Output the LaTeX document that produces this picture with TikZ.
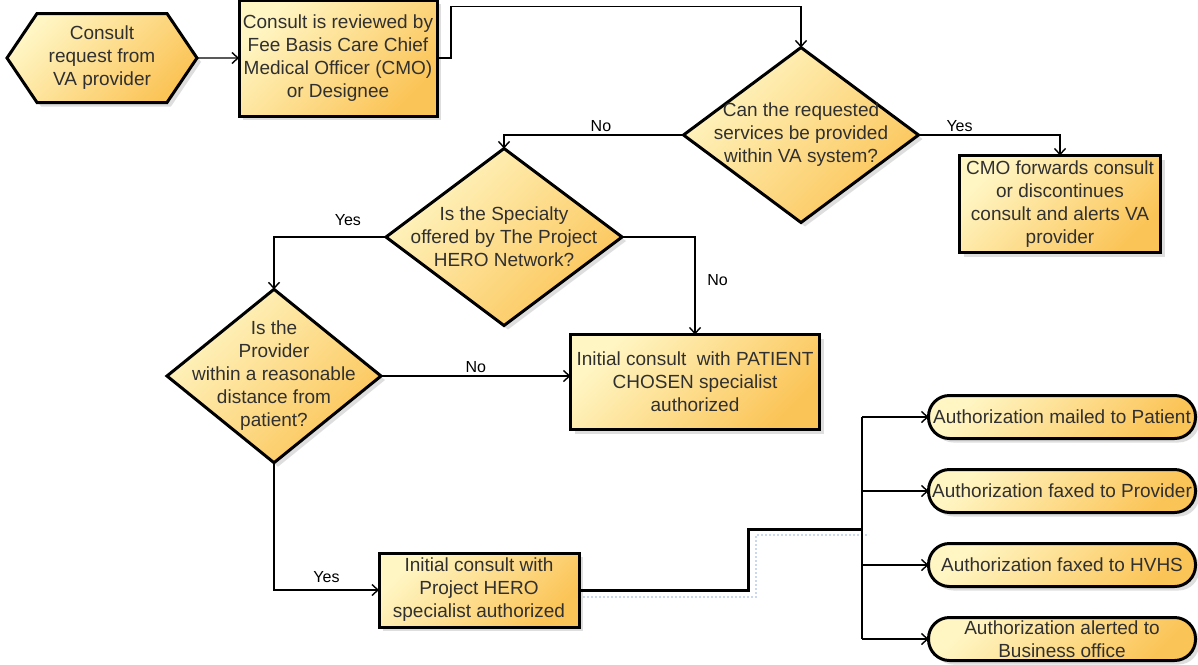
\documentclass[tikz,border=0pt]{standalone}
\usepackage{fontspec}
\setmainfont{Liberation Sans}
\usepackage{xcolor}
\usepackage{tikz}
\usetikzlibrary{arrows.meta, positioning, calc, shapes.geometric, shapes.symbols, shadows}

\definecolor{boxlight}{HTML}{FFF6C4}
\definecolor{boxdark}{HTML}{FBC457}
\definecolor{boxtext}{HTML}{303030}
\definecolor{shadegray}{HTML}{BDBDBD}
\definecolor{glowblue}{HTML}{C9D8F0}

\begin{document}
\begin{tikzpicture}[x=1pt, y=-1pt, >={Straight Barb[length=6pt, width=11pt]},
    every node/.style={font=\fontsize{19}{23}\selectfont, outer sep=0pt},
    filled/.style={draw, line width=3pt, text=boxtext, align=center,
        left color=boxlight, right color=boxdark, shading angle=45,
        drop shadow={shadow xshift=4pt, shadow yshift=-4pt, fill=shadegray}},
    block/.style={filled, rectangle, inner sep=2pt},
    decision/.style={filled, diamond, inner sep=-25pt},
    start/.style={filled, signal, signal to=west and east, signal pointer angle=112, inner sep=2pt},
    terminal/.style={filled, rectangle, rounded corners=21pt, inner xsep=2pt, inner ysep=0pt,
        minimum width=267pt, minimum height=43pt},
    line/.style={draw, line width=1.4pt},
    lbl/.style={font=\fontsize{16}{18}\selectfont, text=black, outer sep=0pt}]

    \useasboundingbox (0,0) rectangle (1198,664);

    \node[start, minimum width=190pt, minimum height=89pt] (hex) at (102,58) {Consult\\request from\\VA provider};
    \node[block, minimum width=198pt, minimum height=116pt, right=42pt of hex] (review) {Consult is reviewed by\\Fee Basis Care Chief\\Medical Officer (CMO)\\or Designee};

    \node[decision, minimum width=235pt, minimum height=175pt] (q1) at (801,135) {Can the requested\\services be provided\\within VA system?};
    \node[block, minimum width=201pt, minimum height=97pt] (cmo) at (1060,204) {CMO forwards consult\\or discontinues\\consult and alerts VA\\provider};

    \node[decision, minimum width=236pt, minimum height=177pt] (q2) at (504,237) {Is the Specialty\\offered by The Project\\HERO Network?};
    \node[block, minimum width=249pt, minimum height=95pt] (patient) at (695,382) {Initial consult\ \ with PATIENT\\CHOSEN specialist\\authorized};

    \node[decision, minimum width=214pt, minimum height=173pt] (q3) at (274,376) {Is the\\Provider\\within a reasonable\\distance from\\patient?};
    \node[block, minimum width=200pt, minimum height=74pt] (hero) at (479,590) {Initial consult with\\Project HERO\\specialist authorized};

    \node[terminal] (t1) at (1062,417) {Authorization mailed to Patient};
    \node[terminal, below=31pt of t1] (t2) {Authorization faxed to Provider};
    \node[terminal, below=31pt of t2] (t3) {Authorization faxed to HVHS};
    \node[terminal, below=31pt of t3, inner ysep=-1pt] (t4) {Authorization alerted to\\Business office};

    \coordinate (split) at (862,529);

    \draw[line, ->] (hex) -- (review);
    \draw[line, ->] (review.east) -- ++(14,0) |- ($(q1.north)+(0,-41)$) -- (q1.north);
    \draw[line, ->] (q1.west) -| node[lbl, pos=0.23, above] (no1) {No} (q2.north);
    \draw[line, ->] (q1.east) -| node[lbl, pos=0.145, above] (yes1) {Yes} (cmo.north);
    \draw[line, ->] (q2.west) -| node[lbl, pos=0.17, above=8pt] (yes2) {Yes} (q3.north);
    \draw[line, ->] (q2.east) -| node[lbl, pos=0.72, right=9pt] (no2) {No} (patient.north);
    \draw[line, ->] (q3.east) -- node[lbl, above] (no3) {No} (q3.east -| patient.west);
    \draw[line, ->] (q3.south) |- node[lbl, pos=0.75, above=4pt] (yes3) {Yes} (hero.west);

    % bus to the four authorizations
    \draw[glowblue, line width=2pt, dotted] ($(hero.east)+(4,7)$) -- ++(173,0) |- ($(split)+(7,6)$);
    \draw[line width=3pt] (hero.east) -- ++(169,0) |- (split);
    \draw[line] (t1.west -| split) -- (t4.west -| split);
    \foreach \t in {t1,t2,t3,t4}
        \draw[line, ->] (\t.west -| split) -- (\t.west);
\end{tikzpicture}
\end{document}
